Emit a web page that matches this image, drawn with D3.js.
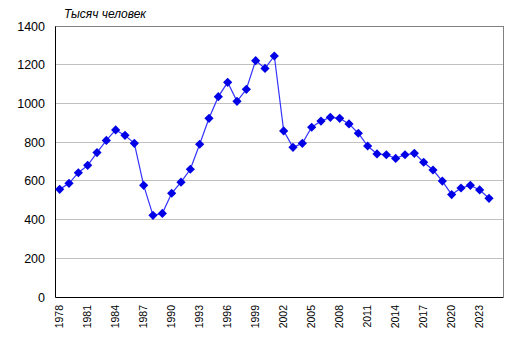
<!DOCTYPE html>
<html><head><meta charset="utf-8">
<script src="https://cdn.jsdelivr.net/npm/d3@7"></script>
<style>body{margin:0;background:#fff}svg{display:block}text{font-family:Arial,"Liberation Sans",sans-serif}</style>
</head><body>
<svg id="c" width="517" height="352"></svg>
<script>
const years = d3.range(1978, 2026);
const values = [556,587,642,680,746,809,863,835,794,577,422,432,536,593,660,789,923,1035,1109,1011,1073,1221,1181,1245,858,773,794,877,909,928,923,894,846,780,739,735,716,735,742,696,656,599,529,563,577,553,510,null];
const yTicks = [0,200,400,600,800,1000,1200,1400];
const xLabels = years.filter((y,i)=>i%3===0);
const title = "Тысяч человек";

const svg = d3.select("#c");
const L=55, R=503, T=26, B=297;
const x = d3.scaleBand().domain(years).range([L,R]);
const y = d3.scaleLinear().domain([0,1400]).range([B,T]);

// gridlines
svg.append("g").selectAll("line").data(yTicks.filter(v=>v>0&&v<1400)).join("line")
  .attr("x1",L).attr("x2",R).attr("y1",d=>y(d)).attr("y2",d=>y(d))
  .attr("stroke","#c0c0c0").attr("stroke-width",1).attr("shape-rendering","crispEdges");
// top & right border
svg.append("path").attr("d",`M${L},${T}H${R}V${B}`).attr("fill","none").attr("stroke","#808080").attr("shape-rendering","crispEdges");

// y axis
const ya = svg.append("g").attr("transform",`translate(${L},0)`).call(d3.axisLeft(y).tickValues(yTicks).tickFormat(d3.format("d")).tickSize(0).tickPadding(10));
ya.select(".domain").attr("stroke","#000");
ya.selectAll("text").attr("font-size","12.5px").attr("fill","#000");

// x axis
const xa = svg.append("g").attr("transform",`translate(0,${B})`).call(d3.axisBottom(x).tickValues(xLabels).tickSize(0));
xa.select(".domain").attr("stroke","#000");
xa.selectAll("text").attr("font-size","10.5px").attr("fill","#000")
  .attr("transform","rotate(-90)").attr("text-anchor","end")
  .attr("x",-8).attr("y",0).attr("dy","0.35em");

// line
const pts = years.map((yr,i)=>({yr,v:values[i]})).filter(d=>d.v!=null);
svg.append("path").datum(pts)
  .attr("d",d3.line().x(d=>x(d.yr)+x.bandwidth()/2).y(d=>y(d.v)))
  .attr("fill","none").attr("stroke","#3333ff").attr("stroke-width",1.2);
const r = 4.6;
svg.append("g").selectAll("path").data(pts).join("path")
  .attr("d",`M0,${-r}L${r},0L0,${r}L${-r},0Z`)
  .attr("transform",d=>`translate(${x(d.yr)+x.bandwidth()/2},${y(d.v)})`)
  .attr("fill","#0000e6");

svg.append("text").attr("x",64).attr("y",18).attr("font-size","12px").attr("font-style","italic").text(title);
</script>
</body></html>
